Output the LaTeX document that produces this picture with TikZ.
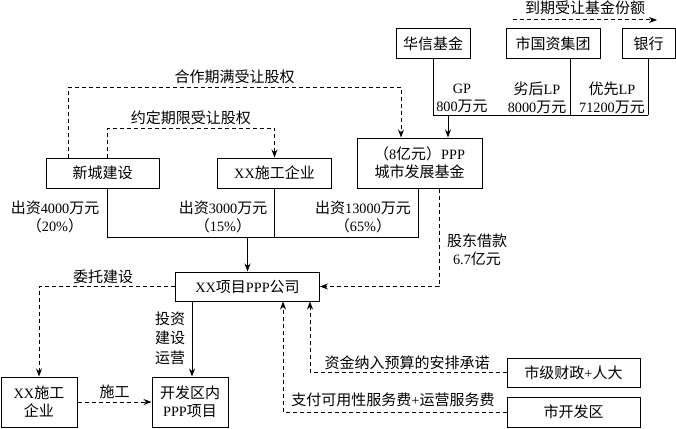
\documentclass[tikz,border=0pt]{standalone}
\usepackage{fontspec}
\setmainfont{Noto Sans CJK SC}
\newfontfamily\latn[Scale=0.95]{Liberation Serif}
\usetikzlibrary{arrows.meta}

\begin{document}
\begin{tikzpicture}[x=1pt,y=-1pt,
        every node/.append style={font=\fontsize{15}{18}\selectfont},
        box/.style={draw, line width=1pt, minimum height=29pt, inner sep=2pt, align=center},
        link/.style={line width=1pt},
        flow/.style={line width=1pt, -{Stealth[length=8pt,width=6pt]}},
        deal/.style={flow, dash pattern=on 4pt off 3pt},
        lbl/.style={align=center, inner sep=0pt}]
        \useasboundingbox (0,0) rectangle (676,428);

        % fondy nahore
        \node[box, minimum width=74pt] (hxjj) at (433,43.5) {华信基金};
        \node[box, minimum width=94pt] (sgzjt) at (553,43.5) {市国资集团};
        \node[box, minimum width=53pt] (yh) at (648.5,43.5) {银行};
        \node[box, minimum width=125pt, minimum height=50pt] (jj) at (419.5,163) {（{\latn 8}亿元）{\latn PPP}\\城市发展基金};

        % akcionari
        \node[box, minimum width=113pt, minimum height=30pt] (xcjs) at (102.5,173) {新城建设};
        \node[box, minimum width=114pt, minimum height=30pt] (sgqy) at (274.5,173) {{\latn XX}施工企业};
        \node[box, minimum width=144pt] (gs) at (247.5,286.5) {{\latn XX}项目{\latn PPP}公司};

        % dole
        \node[box, minimum width=76pt, minimum height=50pt] (sgqy2) at (39,402) {{\latn XX}施工\\企业};
        \node[box, minimum width=76pt, minimum height=50pt] (xm) at (190,402) {开发区内\\{\latn PPP}项目};
        \node[box, minimum width=133pt] (czrd) at (573.5,372.5) {市级财政{\latn +}人大};
        \node[box, minimum width=133pt, minimum height=30pt] (kfq) at (573.5,412) {市开发区};

        % podily ve fondu
        \coordinate (j1) at (433,115);
        \coordinate (j2) at (570,115);
        \coordinate (j3) at (648,115);
        \coordinate (jjin) at (448,115);
        \draw[link] (hxjj.south) -- (j1) -- (j3);
        \draw[link] (sgzjt.south -| j2) -- (j2);
        \draw[link] (yh.south -| j3) -- (j3);
        \draw[flow] (jjin) -- (jjin |- jj.north);
        \node[lbl] (gp) at (462,98) {{\latn GP}\\{\latn 800}万元};
        \node[lbl] (lhlp) at (537,98) {劣后{\latn LP}\\{\latn 8000}万元};
        \node[lbl] (yxlp) at (612,98) {优先{\latn LP}\\{\latn 71200}万元};

        % odkup podilu
        \coordinate (dq1) at (513,20);
        \coordinate (dq2) at (657,20);
        \draw[deal] (dq1) -- node[lbl, above=5pt] (dqlbl) {到期受让基金份额} (dq2);

        % odkup akcii
        \coordinate (hz1) at (68,87);
        \coordinate (hz2) at (401,87);
        \draw[deal] (xcjs.north -| hz1) -- (hz1) -- node[lbl, above=3pt] (hzlbl) {合作期满受让股权} (hz2) -- (hz2 |- jj.north);
        \coordinate (yd1) at (107,128);
        \coordinate (yd2) at (274.5,128);
        \draw[deal] (xcjs.north -| yd1) -- (yd1) -- node[lbl, above=3pt] (ydlbl) {约定期限受让股权} (yd2) -- (sgqy.north);

        % vklady
        \coordinate (c1) at (107,237);
        \coordinate (c3) at (418,237);
        \draw[link] (xcjs.south -| c1) -- (c1) -- (c3) -- (c3 |- jj.south);
        \draw[link] (sgqy.south) -- (sgqy.south |- c1);
        \draw[flow] (gs.north |- c1) -- (gs.north);
        \node[lbl] (cz1) at (55,217) {出资{\latn 4000}万元\\（{\latn 20\%}）};
        \node[lbl] (cz2) at (223,217) {出资{\latn 3000}万元\\（{\latn 15\%}）};
        \node[lbl] (cz3) at (363,217) {出资{\latn 13000}万元\\（{\latn 65\%}）};

        % pujcka
        \coordinate (gd) at (439,286.5);
        \draw[deal] (jj.south -| gd) -- (gd) -- (gs.east);
        \node[lbl] (gdlbl) at (477,250) {股东借款\\{\latn 6.7}亿元};

        % vystavba
        \coordinate (wt) at (sgqy2.north |- gs.west);
        \draw[deal] (gs.west) -- (wt) -- (sgqy2.north);
        \node[lbl] (wtlbl) at (103,277) {委托建设};
        \draw[deal] (sgqy2.east) -- node[lbl, above=3pt] (sglbl) {施工} (xm.west);
        \coordinate (tz) at (192,301);
        \draw[flow] (tz) -- (tz |- xm.north);
        \node[lbl] (tzlbl) at (170,338) {投资\\[1.5pt]建设\\[1.5pt]运营};

        % platby
        \coordinate (zj) at (310,372.5);
        \draw[deal] (czrd.west) -- (zj) -- (zj |- gs.south);
        \node[lbl] (zjlbl) at (407,363) {资金纳入预算的安排承诺};
        \coordinate (zf) at (283,412);
        \draw[deal] (kfq.west) -- (zf) -- (zf |- gs.south);
        \node[lbl] (zflbl) at (393,400) {支付可用性服务费{\latn +}运营服务费};

\end{tikzpicture}
\end{document}
